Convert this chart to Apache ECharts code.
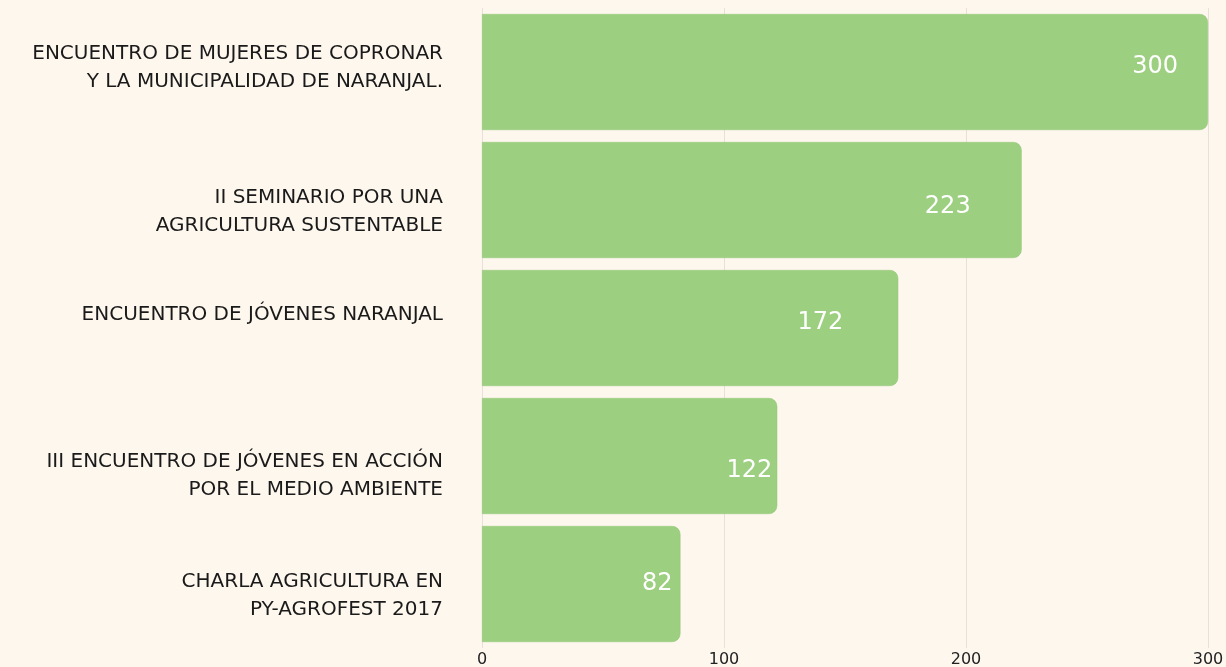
<!DOCTYPE html>
<html>
<head>
<meta charset="utf-8">
<script src="https://cdn.jsdelivr.net/npm/echarts@6/dist/echarts.min.js"></script>
<style>
html,body{margin:0;padding:0;background:#fef7ee;}
#chart{width:1226px;height:667px;}
</style>
</head>
<body>
<div id="chart"></div>
<script>
const categories = [
  "ENCUENTRO DE MUJERES DE COPRONAR\nY LA MUNICIPALIDAD DE NARANJAL.",
  "II SEMINARIO POR UNA\nAGRICULTURA SUSTENTABLE",
  "ENCUENTRO DE JÓVENES NARANJAL",
  "III ENCUENTRO DE JÓVENES EN ACCIÓN\nPOR EL MEDIO AMBIENTE",
  "CHARLA AGRICULTURA EN\nPY-AGROFEST 2017"
];
const values = [300, 223, 172, 122, 82];
const xTicks = [0, 100, 200, 300];
// label styling (kept apart from data)
const labelDistances = [30, 51, 55, 5, 8];
const labelShifts = [-5, 7, -5, 15, 0];
const categoryShifts = [-4, 12, -13, 20, 12];

const chart = echarts.init(document.getElementById('chart'), null, {renderer: 'canvas'});
const fontFamily = '"DejaVu Sans", "Noto Sans", sans-serif';

const rich = {t: {color: '#1a1a1a', fontSize: 20, lineHeight: 28, fontFamily: fontFamily, align: 'right'}};
categoryShifts.forEach((s, i) => {
  rich['sp' + i] = {fontSize: 1, lineHeight: Math.max(1, 2 * Math.abs(s)), align: 'right'};
});

chart.setOption({
  backgroundColor: '#fef7ee',
  animation: false,
  grid: {left: 482, right: 18, top: 8, bottom: 19, containLabel: false, outerBoundsMode: 'none'},
  xAxis: {
    type: 'value',
    min: xTicks[0],
    max: xTicks[xTicks.length - 1],
    interval: 100,
    axisLine: {show: false},
    axisTick: {show: false},
    splitLine: {show: true, lineStyle: {color: '#e9e1d8', width: 1}},
    axisLabel: {color: '#222', fontSize: 16, fontFamily: fontFamily, margin: 4}
  },
  yAxis: {
    type: 'category',
    inverse: true,
    data: categories,
    axisLine: {show: false},
    axisTick: {show: false},
    axisLabel: {
      margin: 39,
      align: 'right',
      rich: rich,
      formatter: function (val, idx) {
        const s = categoryShifts[idx];
        const body = val.split('\n').map(l => '{t|' + l + '}').join('\n');
        const sp = '{sp' + idx + '| }';
        return s >= 0 ? sp + '\n' + body : body + '\n' + sp;
      }
    }
  },
  series: [{
    type: 'bar',
    barCategoryGap: '9.375%',
    data: values.map((v, i) => ({
      value: v,
      label: {distance: labelDistances[i], offset: [0, labelShifts[i]]}
    })),
    itemStyle: {color: '#9dcf80', borderRadius: [0, 8, 8, 0], borderColor: '#93c478', borderWidth: 0.5},
    label: {show: true, position: 'insideRight', color: '#ffffff', fontSize: 24, fontFamily: fontFamily}
  }]
});
</script>
</body>
</html>
